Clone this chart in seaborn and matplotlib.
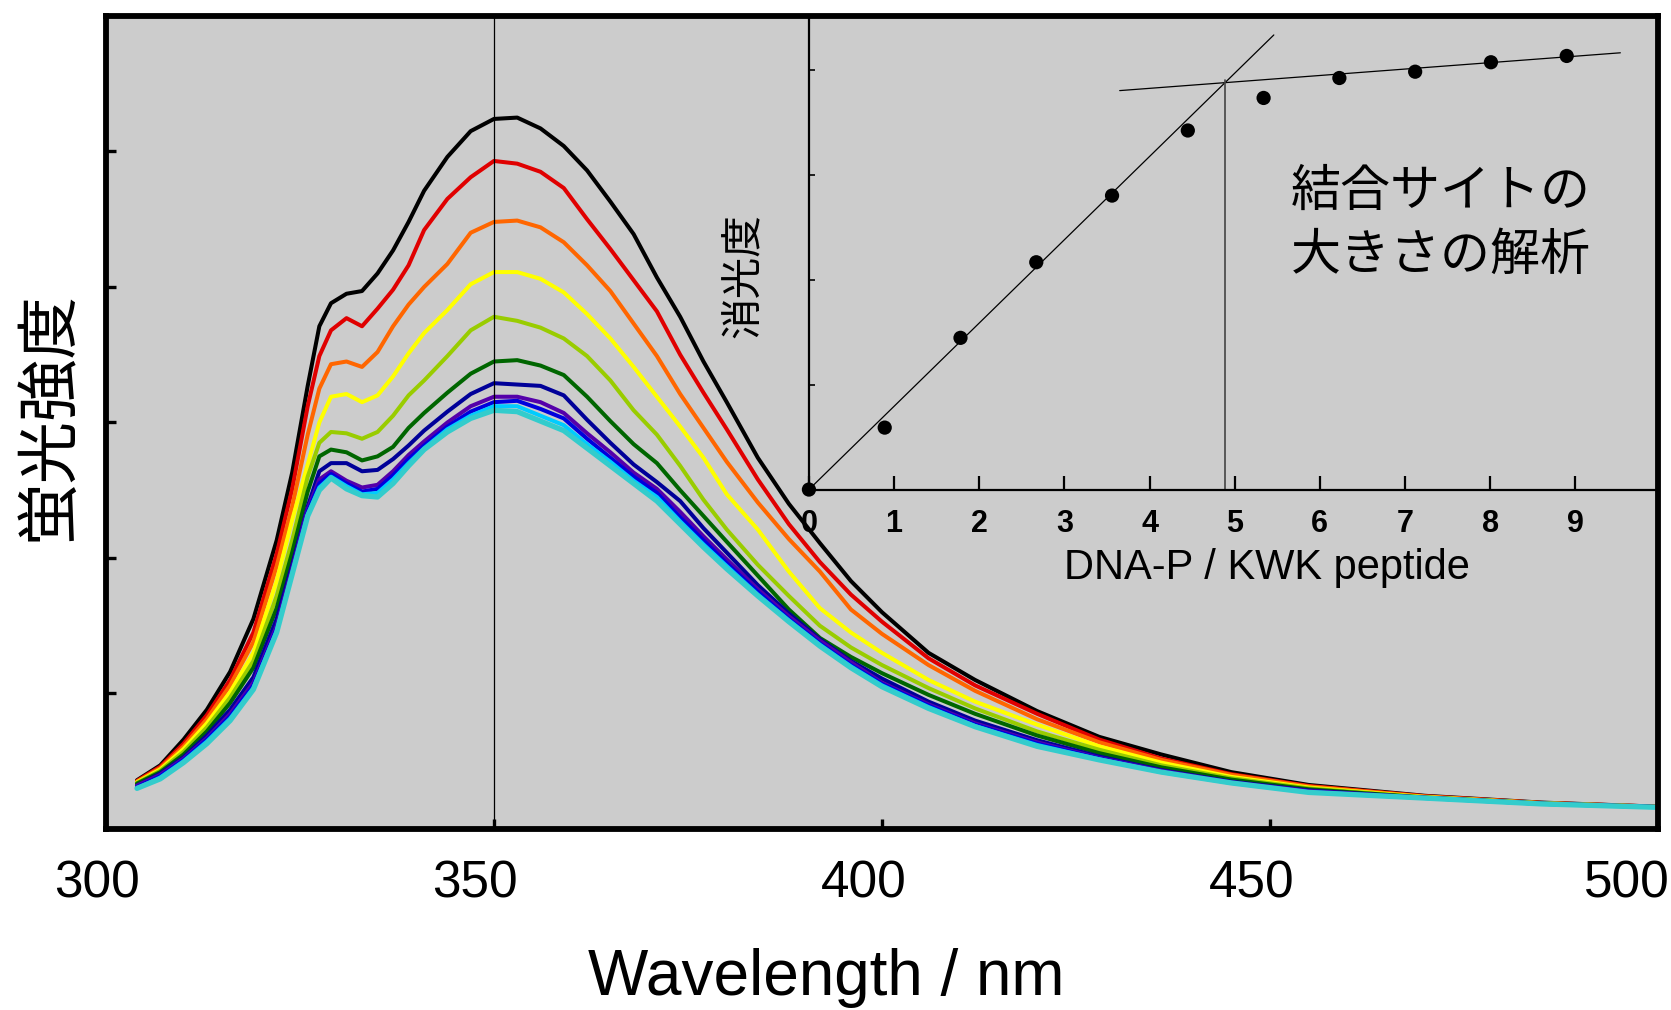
import matplotlib
matplotlib.use("Agg")
import matplotlib.pyplot as plt
import matplotlib.transforms as mtransforms
import seaborn as sns

# emission spectra (excitation fixed), one curve per titration step
wavelength = [304, 307, 310, 313, 316, 319, 322, 324, 326, 327.5, 329, 331, 333, 335, 337,
              339, 341, 344, 347, 350, 353, 356, 359, 362, 365, 368, 371, 374, 377, 380,
              384, 388, 392, 396, 400, 406, 412, 420, 428, 436, 445, 455, 470, 485, 500]

spec_0 = [0.36, 0.47, 0.66, 0.88, 1.16, 1.55, 2.13, 2.63, 3.27, 3.71, 3.88, 3.95, 3.97, 4.10, 4.27,
          4.48, 4.71, 4.96, 5.15, 5.24, 5.25, 5.17, 5.04, 4.86, 4.63, 4.39, 4.07, 3.78, 3.45, 3.15,
          2.74, 2.40, 2.11, 1.83, 1.60, 1.30, 1.10, 0.87, 0.68, 0.55, 0.42, 0.325, 0.245, 0.195, 0.165]
spec_1 = [0.355, 0.46, 0.63, 0.84, 1.10, 1.45, 2.03, 2.51, 3.12, 3.49, 3.68, 3.77, 3.71, 3.84, 3.98,
          4.16, 4.42, 4.65, 4.81, 4.93, 4.91, 4.85, 4.73, 4.50, 4.28, 4.05, 3.82, 3.50, 3.22, 2.95,
          2.58, 2.25, 1.97, 1.73, 1.53, 1.26, 1.06, 0.85, 0.66, 0.52, 0.405, 0.318, 0.242, 0.193, 0.165]
spec_2 = [0.35, 0.45, 0.61, 0.81, 1.06, 1.38, 1.94, 2.38, 2.91, 3.25, 3.43, 3.45, 3.41, 3.52, 3.71,
          3.87, 4.00, 4.17, 4.40, 4.48, 4.49, 4.44, 4.33, 4.16, 3.97, 3.73, 3.49, 3.21, 2.96, 2.71,
          2.41, 2.14, 1.90, 1.62, 1.44, 1.21, 1.02, 0.81, 0.64, 0.51, 0.40, 0.314, 0.24, 0.192, 0.164]
spec_3 = [0.345, 0.44, 0.59, 0.78, 1.01, 1.30, 1.83, 2.28, 2.69, 3.00, 3.19, 3.21, 3.15, 3.20, 3.34,
          3.51, 3.66, 3.83, 4.02, 4.11, 4.11, 4.06, 3.96, 3.80, 3.62, 3.41, 3.19, 2.97, 2.74, 2.47,
          2.21, 1.90, 1.63, 1.45, 1.30, 1.10, 0.94, 0.77, 0.61, 0.49, 0.385, 0.306, 0.236, 0.19, 0.163]
spec_4 = [0.34, 0.43, 0.57, 0.75, 0.97, 1.24, 1.72, 2.13, 2.60, 2.85, 2.93, 2.92, 2.88, 2.93, 3.05,
          3.20, 3.31, 3.49, 3.68, 3.78, 3.75, 3.70, 3.62, 3.49, 3.31, 3.09, 2.91, 2.68, 2.43, 2.21,
          1.95, 1.72, 1.50, 1.34, 1.21, 1.04, 0.89, 0.72, 0.585, 0.47, 0.375, 0.30, 0.233, 0.189, 0.163]
spec_5 = [0.335, 0.42, 0.55, 0.72, 0.93, 1.19, 1.63, 2.04, 2.49, 2.75, 2.80, 2.78, 2.72, 2.75, 2.82,
          2.96, 3.07, 3.22, 3.36, 3.45, 3.46, 3.42, 3.35, 3.19, 3.01, 2.84, 2.70, 2.50, 2.31, 2.12,
          1.87, 1.62, 1.41, 1.27, 1.15, 0.99, 0.85, 0.69, 0.56, 0.455, 0.365, 0.293, 0.232, 0.188, 0.162]
spec_6 = [0.32, 0.41, 0.53, 0.69, 0.88, 1.12, 1.55, 1.95, 2.38, 2.64, 2.70, 2.70, 2.64, 2.65, 2.73,
          2.83, 2.94, 3.08, 3.21, 3.29, 3.28, 3.27, 3.20, 3.02, 2.85, 2.69, 2.56, 2.42, 2.22, 2.04,
          1.80, 1.59, 1.40, 1.24, 1.11, 0.94, 0.80, 0.655, 0.535, 0.435, 0.35, 0.285, 0.23, 0.187, 0.162]
spec_7 = [0.32, 0.40, 0.52, 0.67, 0.85, 1.08, 1.50, 1.92, 2.36, 2.58, 2.64, 2.57, 2.52, 2.54, 2.64,
          2.76, 2.86, 3.00, 3.12, 3.19, 3.19, 3.15, 3.07, 2.92, 2.78, 2.63, 2.51, 2.34, 2.16, 1.99,
          1.77, 1.57, 1.39, 1.23, 1.08, 0.92, 0.78, 0.64, 0.525, 0.43, 0.345, 0.28, 0.23, 0.186, 0.162]
spec_8 = [0.31, 0.39, 0.51, 0.66, 0.83, 1.06, 1.48, 1.90, 2.34, 2.55, 2.62, 2.55, 2.49, 2.51, 2.61,
          2.73, 2.83, 2.97, 3.08, 3.15, 3.16, 3.10, 3.03, 2.88, 2.74, 2.60, 2.48, 2.30, 2.13, 1.96,
          1.75, 1.55, 1.37, 1.21, 1.07, 0.91, 0.77, 0.63, 0.52, 0.425, 0.342, 0.275, 0.229, 0.186, 0.162]
spec_9 = [0.30, 0.38, 0.50, 0.645, 0.815, 1.04, 1.46, 1.89, 2.32, 2.52, 2.60, 2.53, 2.47, 2.48, 2.58,
          2.70, 2.81, 2.95, 3.05, 3.12, 3.12, 3.05, 2.98, 2.84, 2.71, 2.57, 2.45, 2.27, 2.10, 1.94,
          1.73, 1.54, 1.36, 1.20, 1.06, 0.90, 0.76, 0.62, 0.515, 0.42, 0.34, 0.272, 0.228, 0.185, 0.16]
spec_10 = [0.30, 0.37, 0.49, 0.63, 0.80, 1.03, 1.45, 1.88, 2.31, 2.50, 2.59, 2.51, 2.46, 2.45, 2.55,
           2.68, 2.80, 2.93, 3.03, 3.09, 3.08, 3.01, 2.94, 2.81, 2.68, 2.55, 2.42, 2.25, 2.08, 1.92,
           1.72, 1.53, 1.35, 1.19, 1.05, 0.89, 0.755, 0.61, 0.51, 0.42, 0.34, 0.27, 0.228, 0.185, 0.16]

spectra = [spec_0, spec_1, spec_2, spec_3, spec_4, spec_5, spec_6, spec_7, spec_8, spec_9, spec_10]
colors = ["#000000", "#e00000", "#ff6600", "#ffff00", "#99cc00", "#006600",
          "#000099", "#5500aa", "#0000dd", "#00ccff", "#33cccc"]

x_ticks = [300, 350, 400, 450, 500]
y_ticks = [1, 2, 3, 4, 5]

# inset: quenching vs DNA phosphate / peptide ratio
ratio = [0, 0.89, 1.78, 2.67, 3.56, 4.45, 5.34, 6.23, 7.12, 8.01, 8.90]
quench = [0, 0.59, 1.445, 2.165, 2.80, 3.42, 3.73, 3.92, 3.98, 4.07, 4.13]
fit_lo_x = [0, 5.46]
fit_lo_y = [0, 4.33]
fit_hi_x = [3.65, 9.53]
fit_hi_y = [3.80, 4.16]
break_x = 4.89
break_y = 3.90
inset_ticks = list(range(10))

sns.set_theme(style="ticks")
plt.rcParams['font.family'] = ['Liberation Sans', 'Noto Sans CJK JP']
plt.rcParams['text.color'] = 'black'

fig = plt.figure(figsize=(16.71, 10.10), dpi=100)
ax = fig.add_axes([0.0634, 0.1792, 0.9288, 0.8050])
ax.set_facecolor("#cccccc")

for i, (spec, col) in enumerate(zip(spectra, colors)):
    lw = 3.8 if i == len(spectra) - 1 else 2.9
    sns.lineplot(x=wavelength, y=spec, color=col, linewidth=lw, estimator=None,
                 sort=False, legend=False, ax=ax)
ax.axvline(350, color="black", lw=0.9, zorder=5)

ax.set_xlim(300, 500)
ax.set_ylim(0, 6)
ax.set_xticks(x_ticks)
ax.set_yticks(y_ticks)
for s in ax.spines.values():
    s.set_linewidth(4.2)
    s.set_color("black")
ax.tick_params(axis="both", direction="in", length=7, width=2.4, color="black")
ax.tick_params(axis="x", labelsize=37, pad=22, labelcolor="black")
ax.tick_params(axis="y", labelleft=False)
# tick labels sit slightly left of their ticks in the original
for lab, dx in zip(ax.get_xticklabels(), [-9, -19, -18, -18, -31]):
    lab.set_transform(lab.get_transform() + mtransforms.ScaledTranslation(dx / 100, 0, fig.dpi_scale_trans))

ax.set_xlabel("Wavelength / nm", fontsize=46, color="black")
ax.xaxis.set_label_coords(0.464, -0.146)
ax.set_ylabel("蛍光強度", fontsize=45, color="black", va="center")
ax.yaxis.set_label_coords(-0.0364, 0.508)

# inset
ins = fig.add_axes([0.4841, 0.5153, 0.5075, 0.4688])
ins.patch.set_alpha(0)
ins.spines[["top", "right"]].set_visible(False)
for side in ["left", "bottom"]:
    ins.spines[side].set_linewidth(1.6)
    ins.spines[side].set_color("black")

ins.plot(fit_lo_x, fit_lo_y, color="black", lw=0.9)
ins.plot(fit_hi_x, fit_hi_y, color="black", lw=0.9)
ins.plot([break_x, break_x], [0, break_y], color="#444444", lw=1.2)
sns.scatterplot(x=ratio, y=quench, color="black", s=105, edgecolor="none",
                zorder=4, clip_on=False, legend=False, ax=ins)

ins.set_xlim(0, 9.96)
ins.set_ylim(0, 4.51)
ins.set_xticks(inset_ticks)
ins.set_yticks([1, 2, 3, 4])
ins.tick_params(axis="x", direction="in", length=10, width=1.6, labelsize=22, pad=14,
                color="black", labelcolor="black")
ins.tick_params(axis="y", direction="in", length=4, width=1.2, labelleft=False, color="black")
for lab in ins.get_xticklabels():
    lab.set_fontweight("bold")

ins.set_xlabel("DNA-P / KWK peptide", fontsize=30, color="black")
ins.xaxis.set_label_coords(0.540, -0.1235)
ins.set_ylabel("消光度", fontsize=30, color="black", va="center")
ins.yaxis.set_label_coords(-0.0755, 0.451)

ins.text(0.568, 0.627, "結合サイトの", fontsize=36, color="black", ha="left", va="center",
         transform=ins.transAxes)
ins.text(0.568, 0.493, "大きさの解析", fontsize=36, color="black", ha="left", va="center",
         transform=ins.transAxes)

fig.savefig("out.png", dpi=100)
